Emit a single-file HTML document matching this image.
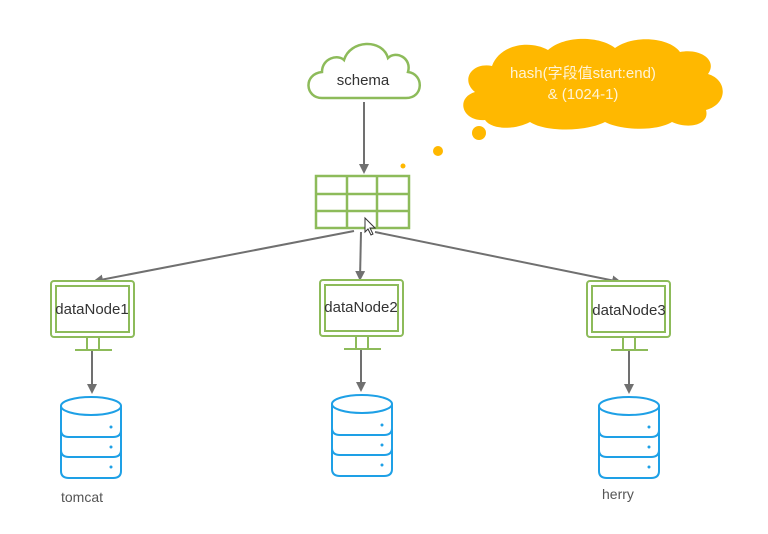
<!DOCTYPE html>
<html><head><meta charset="utf-8"><style>html,body{margin:0;padding:0;background:#fff;}svg{display:block}</style></head>
<body>
<svg width="768" height="534" viewBox="0 0 768 534" xmlns="http://www.w3.org/2000/svg">
<defs>
<marker id="ar" markerWidth="10" markerHeight="10" refX="8" refY="5" orient="auto" markerUnits="userSpaceOnUse">
<path d="M0,0 L10,5 L0,10 z" fill="#707070"/>
</marker>
</defs>
<rect width="768" height="534" fill="#fff"/>
<path d="M322,98 C305,98 303,74 322,72 C322,58 338,54 344,60 C350,40 382,38 388,58 C396,50 412,58 408,72 C424,74 424,98 406,98 Z" fill="#fff" stroke="#8dbb5a" stroke-width="2.5"/>
<text x="363" y="85" font-family="Liberation Sans, sans-serif" font-size="15" fill="#333" text-anchor="middle">schema</text>
<path d="M485,120 C462,122 455,98 475,92 C460,80 472,62 492,66 C500,44 530,40 548,50 C565,35 600,36 615,48 C635,34 670,38 680,52 C700,48 718,60 708,74 C728,80 728,104 706,110 C710,124 690,130 672,122 C655,132 620,130 605,122 C585,132 545,132 530,122 C515,130 492,130 485,120 Z" fill="#ffb800"/>
<text x="583" y="78" font-family="Liberation Sans, 'Noto Sans CJK SC', sans-serif" font-size="15" fill="#fff3d6" text-anchor="middle">hash(字段值start:end)</text>
<text x="583" y="99" font-family="Liberation Sans, sans-serif" font-size="15" fill="#fff3d6" text-anchor="middle">&amp; (1024-1)</text>
<circle cx="479" cy="133" r="7" fill="#ffb800"/>
<circle cx="438" cy="151" r="5" fill="#ffb800"/>
<circle cx="403" cy="166" r="2.5" fill="#ffb800"/>
<line x1="364" y1="102" x2="364" y2="172" stroke="#707070" stroke-width="2" marker-end="url(#ar)"/>
<g fill="none" stroke="#8dbb5a" stroke-width="2.5">
<rect x="316" y="176" width="93" height="52"/>
<line x1="347" y1="176" x2="347" y2="228"/><line x1="377" y1="176" x2="377" y2="228"/>
<line x1="316" y1="194" x2="409" y2="194"/><line x1="316" y1="211" x2="409" y2="211"/>
</g>
<path d="M365,218 L365,232 L368,229 L371,235 L373,234 L370,228 L375,228 Z" fill="#fff" stroke="#333" stroke-width="1"/>
<g stroke="#707070" stroke-width="2" fill="none">
<line x1="354" y1="231" x2="95" y2="281" marker-end="url(#ar)"/>
<line x1="361" y1="232" x2="360" y2="279" marker-end="url(#ar)"/>
<line x1="375" y1="232" x2="620" y2="282" marker-end="url(#ar)"/>
</g>
<g font-family="Liberation Sans, sans-serif" font-size="15" fill="#333">
<g transform="translate(51,281)">
<rect x="0" y="0" width="83" height="56" rx="3" fill="#fff" stroke="#8dbb5a" stroke-width="2"/>
<rect x="5" y="5" width="73" height="46" fill="none" stroke="#8dbb5a" stroke-width="2"/>
<path d="M36,57 V69 M48,57 V69 M24,69 H61" stroke="#8dbb5a" stroke-width="2"/>
<text x="41" y="33" text-anchor="middle">dataNode1</text>
</g>
<g transform="translate(320,280)">
<rect x="0" y="0" width="83" height="56" rx="3" fill="#fff" stroke="#8dbb5a" stroke-width="2"/>
<rect x="5" y="5" width="73" height="46" fill="none" stroke="#8dbb5a" stroke-width="2"/>
<path d="M36,57 V69 M48,57 V69 M24,69 H61" stroke="#8dbb5a" stroke-width="2"/>
<text x="41" y="32" text-anchor="middle">dataNode2</text>
</g>
<g transform="translate(587,281)">
<rect x="0" y="0" width="83" height="56" rx="3" fill="#fff" stroke="#8dbb5a" stroke-width="2"/>
<rect x="5" y="5" width="73" height="46" fill="none" stroke="#8dbb5a" stroke-width="2"/>
<path d="M36,57 V69 M48,57 V69 M24,69 H61" stroke="#8dbb5a" stroke-width="2"/>
<text x="42" y="34" text-anchor="middle">dataNode3</text>
</g>
</g>
<g stroke="#707070" stroke-width="2">
<line x1="92" y1="351" x2="92" y2="392" marker-end="url(#ar)"/>
<line x1="361" y1="350" x2="361" y2="390" marker-end="url(#ar)"/>
<line x1="629" y1="351" x2="629" y2="392" marker-end="url(#ar)"/>
</g>
<g fill="none" stroke="#1ea0e6" stroke-width="2">
<g transform="translate(61,397)">
<ellipse cx="30" cy="9" rx="30" ry="9" fill="#fff"/>
<path d="M0,9 V74 Q0,81 8,81 H52 Q60,81 60,74 V9"/>
<path d="M0,33 Q0,40 8,40 H52 Q60,40 60,33 M0,53 Q0,60 8,60 H52 Q60,60 60,53"/>
<circle cx="50" cy="30" r="1.5" fill="#1ea0e6" stroke="none"/><circle cx="50" cy="50" r="1.5" fill="#1ea0e6" stroke="none"/><circle cx="50" cy="70" r="1.5" fill="#1ea0e6" stroke="none"/>
</g>
<g transform="translate(332,395)">
<ellipse cx="30" cy="9" rx="30" ry="9" fill="#fff"/>
<path d="M0,9 V74 Q0,81 8,81 H52 Q60,81 60,74 V9"/>
<path d="M0,33 Q0,40 8,40 H52 Q60,40 60,33 M0,53 Q0,60 8,60 H52 Q60,60 60,53"/>
<circle cx="50" cy="30" r="1.5" fill="#1ea0e6" stroke="none"/><circle cx="50" cy="50" r="1.5" fill="#1ea0e6" stroke="none"/><circle cx="50" cy="70" r="1.5" fill="#1ea0e6" stroke="none"/>
</g>
<g transform="translate(599,397)">
<ellipse cx="30" cy="9" rx="30" ry="9" fill="#fff"/>
<path d="M0,9 V74 Q0,81 8,81 H52 Q60,81 60,74 V9"/>
<path d="M0,33 Q0,40 8,40 H52 Q60,40 60,33 M0,53 Q0,60 8,60 H52 Q60,60 60,53"/>
<circle cx="50" cy="30" r="1.5" fill="#1ea0e6" stroke="none"/><circle cx="50" cy="50" r="1.5" fill="#1ea0e6" stroke="none"/><circle cx="50" cy="70" r="1.5" fill="#1ea0e6" stroke="none"/>
</g>
</g>
<g font-family="Liberation Sans, sans-serif" font-size="14" fill="#555">
<text x="61" y="502">tomcat</text>
<text x="602" y="499">herry</text>
</g>
</svg>
</body></html>
